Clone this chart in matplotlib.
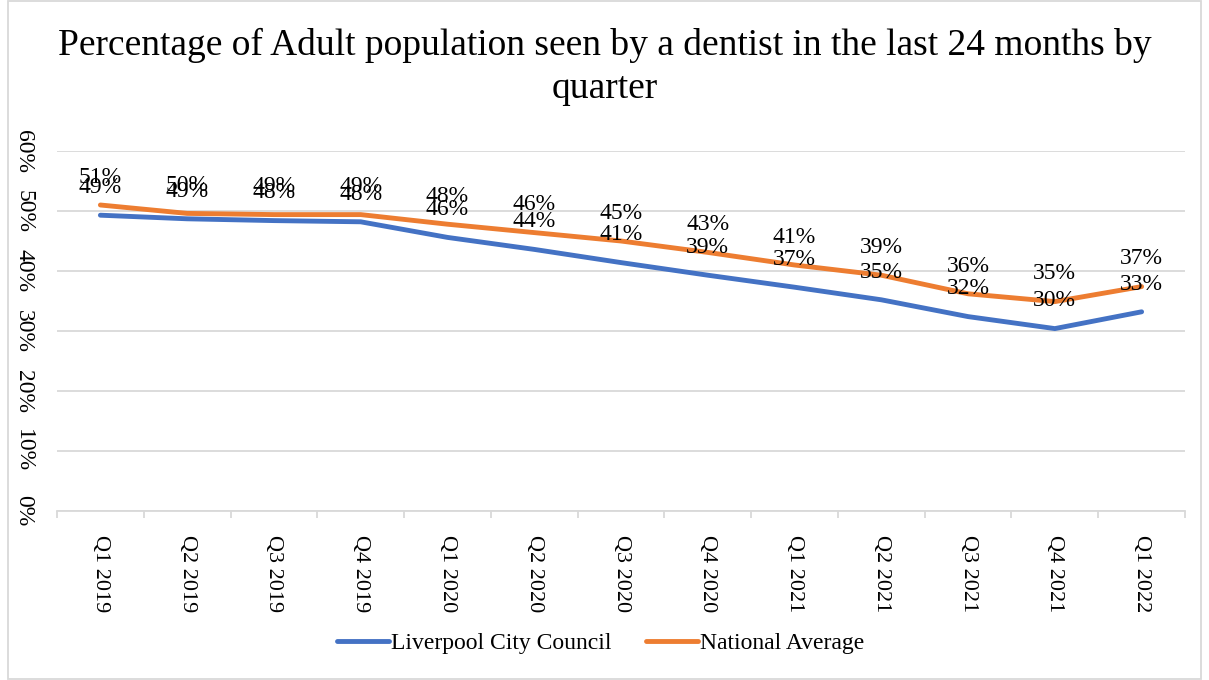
import matplotlib
matplotlib.use("Agg")
import matplotlib.pyplot as plt
from matplotlib.patches import Rectangle

plt.rcParams['font.family'] = ['Liberation Serif', 'DejaVu Serif']

quarters = ["Q1 2019", "Q2 2019", "Q3 2019", "Q4 2019",
            "Q1 2020", "Q2 2020", "Q3 2020", "Q4 2020",
            "Q1 2021", "Q2 2021", "Q3 2021", "Q4 2021", "Q1 2022"]
liverpool = [49.3, 48.7, 48.4, 48.2, 45.6, 43.6, 41.4, 39.3, 37.3, 35.2, 32.4, 30.4, 33.2]
national = [51.0, 49.6, 49.4, 49.4, 47.8, 46.4, 45.0, 43.1, 41.0, 39.3, 36.2, 34.9, 37.4]
y_ticks = [0, 10, 20, 30, 40, 50, 60]

title = "Percentage of Adult population seen by a dentist in the last 24 months by\nquarter"

BLUE = "#4472C4"
ORANGE = "#ED7D31"
GRID = "#D9D9D9"

fig = plt.figure(figsize=(12.09, 6.80), dpi=100)
ax = fig.add_axes([57 / 1209, 1 - 511 / 680, (1185 - 57) / 1209, (511 - 151) / 680])

x = list(range(len(quarters)))
ax.plot(x, liverpool, color=BLUE, lw=3.5, solid_capstyle='round',
        solid_joinstyle='round', label="Liverpool City Council", zorder=3)
ax.plot(x, national, color=ORANGE, lw=3.5, solid_capstyle='round',
        solid_joinstyle='round', label="National Average", zorder=3)

for series in (liverpool, national):
    for xi, v in zip(x, series):
        ax.annotate(f"{v:.0f}%", (xi, v), xytext=(0, 20), textcoords='offset points',
                    ha='center', va='center', fontsize=17, color='black', zorder=4)

ax.set_xlim(-0.5, len(quarters) - 0.5)
ax.set_ylim(0, 60)
ax.set_yticks(y_ticks)
ax.set_yticklabels([f"{t}%" for t in y_ticks], rotation=-90, va='center', ha='center',
                   fontsize=17)
ax.tick_params(axis='y', length=0, pad=24)
ax.yaxis.grid(True, color=GRID, lw=1.3)
ax.set_axisbelow(True)

ax.set_xticks(x)
ax.set_xticklabels(quarters, rotation=-90, va='top', ha='center', fontsize=16)
ax.set_xticks([i - 0.5 for i in range(len(quarters) + 1)], minor=True)
ax.tick_params(axis='x', which='major', length=0, pad=17)
ax.tick_params(axis='x', which='minor', length=5, color=GRID, width=1.3)

for side in ('left', 'right', 'top'):
    ax.spines[side].set_visible(False)
ax.spines['bottom'].set_color(GRID)
ax.spines['bottom'].set_linewidth(1.3)

fig.text(0.5, 1 - 67 / 680, title, ha='center', va='center', fontsize=27,
         linespacing=1.3)

fig.legend(loc='center', bbox_to_anchor=(0.497, 1 - 643 / 680), ncol=2, frameon=False,
           fontsize=17, handlelength=2.2, handletextpad=0.1, columnspacing=1.45)

fig.patches.append(Rectangle((8 / 1209, 0.002), 1 - 16 / 1209, 0.996,
                             transform=fig.transFigure, fill=False,
                             edgecolor=GRID, lw=1.3))

fig.savefig("out.png", dpi=100)
